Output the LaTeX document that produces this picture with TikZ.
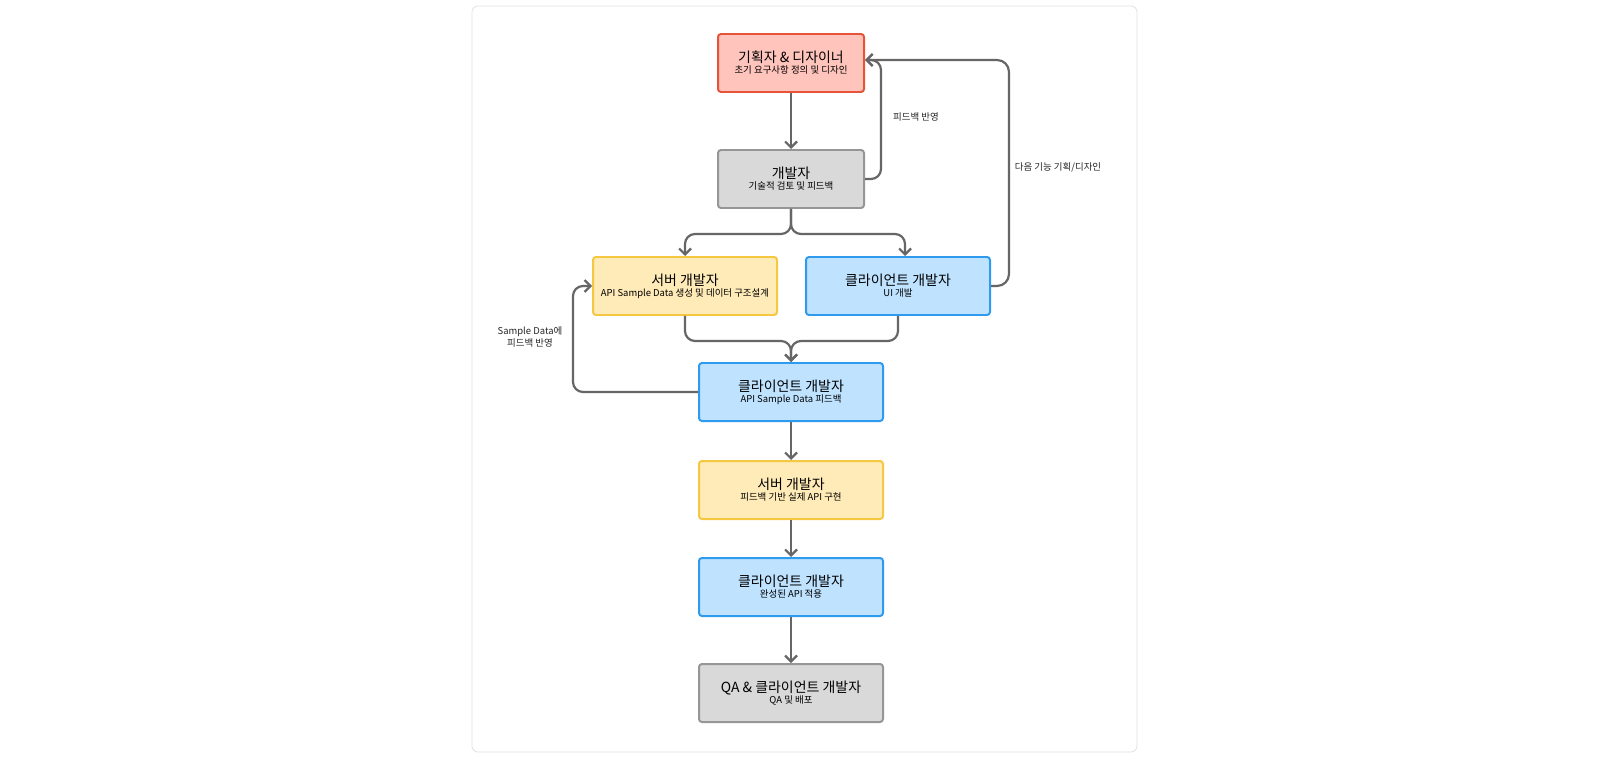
\documentclass[tikz,border=0pt]{standalone}
\usepackage{fontspec}
\setmainfont{Noto Sans CJK KR}
\usetikzlibrary{arrows.meta}
\definecolor{redfill}{RGB}{255,196,188}
\definecolor{redline}{RGB}{230,85,58}
\definecolor{grayfill}{RGB}{217,217,217}
\definecolor{grayline}{RGB}{150,150,150}
\definecolor{yelfill}{RGB}{255,235,184}
\definecolor{yelline}{RGB}{246,200,66}
\definecolor{bluefill}{RGB}{191,227,255}
\definecolor{blueline}{RGB}{46,155,239}
\definecolor{flow}{RGB}{102,102,102}
\tikzset{every picture/.style={line width=0.75pt}}
\begin{document}
\begin{tikzpicture}[x=1bp,y=1bp,yscale=-1,
  box/.style={draw, line width=2pt, rounded corners=3pt, minimum width=146bp, minimum height=58bp, align=center, inner sep=2pt},
  wbox/.style={box, minimum width=184bp},
  redbox/.style={box, fill=redfill, draw=redline},
  graybox/.style={box, fill=grayfill, draw=grayline},
  yelbox/.style={wbox, fill=yelfill, draw=yelline},
  bluebox/.style={wbox, fill=bluefill, draw=blueline},
  conn/.style={draw=flow, line width=2.2pt, rounded corners=10pt, -{Straight Barb[length=6pt,width=12pt,line width=2.2pt]}},
  lbl/.style={font=\fontsize{9.5}{12.5}\selectfont, align=center, text=black!85}]
\useasboundingbox (0,0) rectangle (1600,769);
%Shape: Panel
\draw [draw=black!12, fill=white, rounded corners=6pt] (472,6) rectangle (1137,752);

% Boxes
\node [redbox] (plan) at (791,63) {{\fontsize{14}{17}\selectfont 기획자 \& 디자이너}\\[-1pt]{\fontsize{9.5}{12}\selectfont 초기 요구사항 정의 및 디자인}};
\node [graybox] (dev) at (791,179) {{\fontsize{14}{17}\selectfont 개발자}\\[-1pt]{\fontsize{9.5}{12}\selectfont 기술적 검토 및 피드백}};
\node [yelbox] (srv) at (685,286) {{\fontsize{14}{17}\selectfont 서버 개발자}\\[-1pt]{\fontsize{9.5}{12}\selectfont API Sample Data 생성 및 데이터 구조설계}};
\node [bluebox] (cli) at (898,286) {{\fontsize{14}{17}\selectfont 클라이언트 개발자}\\[-1pt]{\fontsize{9.5}{12}\selectfont UI 개발}};
\node [bluebox] (clifb) at (791,392) {{\fontsize{14}{17}\selectfont 클라이언트 개발자}\\[-1pt]{\fontsize{9.5}{12}\selectfont API Sample Data 피드백}};
\node [yelbox] (srvimpl) at (791,490) {{\fontsize{14}{17}\selectfont 서버 개발자}\\[-1pt]{\fontsize{9.5}{12}\selectfont 피드백 기반 실제 API 구현}};
\node [bluebox] (cliapi) at (791,587) {{\fontsize{14}{17}\selectfont 클라이언트 개발자}\\[-1pt]{\fontsize{9.5}{12}\selectfont 완성된 API 적용}};
\node [graybox, minimum width=184bp] (qa) at (791,693) {{\fontsize{14}{17}\selectfont QA \& 클라이언트 개발자}\\[-1pt]{\fontsize{9.5}{12}\selectfont QA 및 배포}};

% Connectors
\draw [conn] (plan) -- (dev);
\draw [conn] (dev.south) -- ++(0,25) -| (srv.north);
\draw [conn] (dev.south) -- ++(0,25) -| ([xshift=7bp]cli.north);
\draw [conn] (srv.south) -- ++(0,25) -| (clifb.north);
\draw [conn] (cli.south) -- ++(0,25) -| (clifb.north);
\draw [conn] (dev.east) -- ++(16,0) |- ([yshift=-3bp]plan.east);
\draw [conn, rounded corners=12pt] (cli.east) -- ++(18,0) |- ([yshift=-3bp]plan.east);
\draw [conn] (clifb.west) -| (573,286) -- (srv.west);
\draw [conn] (clifb) -- (srvimpl);
\draw [conn] (srvimpl) -- (cliapi);
\draw [conn] (cliapi) -- (qa);

% Text Node
\node [lbl] (lfb) at (916,117) {피드백 반영};
\node [lbl] (lnext) at (1058,167) {다음 기능 기획/디자인};
\node [lbl] (lsample) at (530,337) {Sample Data에\\피드백 반영};
\end{tikzpicture}
\end{document}
